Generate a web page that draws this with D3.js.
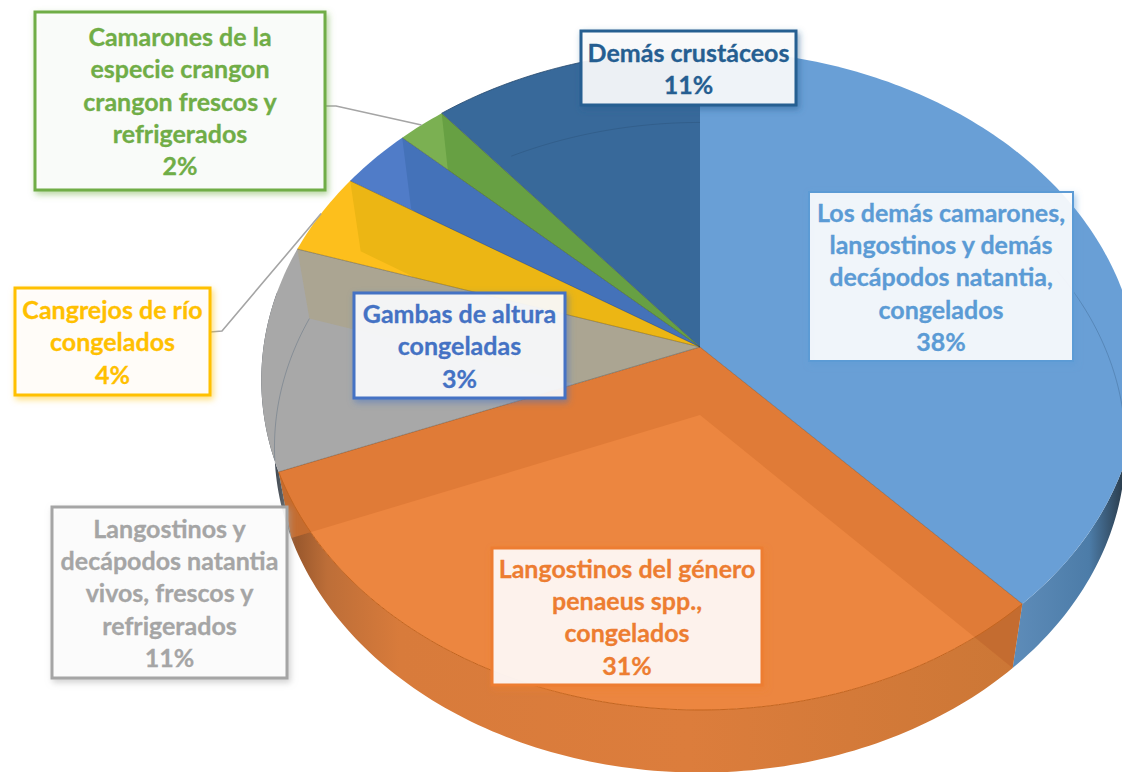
<!DOCTYPE html>
<html><head><meta charset="utf-8">
<script src="https://cdn.jsdelivr.net/npm/d3@7/dist/d3.min.js"></script>
<style>html,body{margin:0;padding:0;background:#fff;overflow:hidden}svg{display:block}text{font-family:Lato,"Open Sans",sans-serif;font-weight:700}</style>
</head><body>
<svg id="c" width="1122" height="772"></svg>
<script>
// ---- data ----
const categories = [
  ["Los demás camarones,","langostinos y demás","decápodos natantia,","congelados"],
  ["Langostinos del género","penaeus spp.,","congelados"],
  ["Langostinos y","decápodos natantia","vivos, frescos y","refrigerados"],
  ["Cangrejos de río","congelados"],
  ["Gambas de altura","congeladas"],
  ["Camarones de la","especie crangon","crangon frescos y","refrigerados"],
  ["Demás crustáceos"]
];
const values = [38,31,11,4,3,2,11];
// ---- styles ----
const topColors  = ["#699fd6","#ec8640","#a8a8a8","#fdbf1c","#507cc8","#7bb052","#38699a"];
const wallColors = ["#699fd6","#e07b37","#aba592","#ecb614","#4472b9","#67a043","#35689a"];
const lineColors = ["#5b9bd5","#ed7d31","#a5a5a5","#ffc000","#4472c4","#70ad47","#255e91"];
const sideStops = [
  [["#5e8cb9",0],["#4c7ca8",.7],["#2c3f50",1]],
  [["#94552b",0],["#bd6e38",.05],["#d87b3b",.15],["#dc7d3c",.55],["#cc7736",1]],
  [["#3d4650",0],["#7c7c7c",1]],
  [["#ecb614",0],["#ecb614",1]],[["#4472b9",0],["#4472b9",1]],[["#67a043",0],["#67a043",1]],[["#35689a",0],["#35689a",1]]
];
const boxes = [ // x0,y0,x1,y1,border
  [809,192,1073,361,2],[492,548,762,685,3],[52,507,287,678,3],[15,288,210,395,3],
  [354,293,565,398,3],[35,12,325,190,3],[581,31,796,105,3]
];
const leaders = {3:[[210,332],[222,331]],5:[[325,106],[336,106]]};
const fontSize = 25, lineStep = 32.3;

// ---- projection of the tilted disc ----
const x0 = 700, yTop = 347, yBot = 415, A = 436.5, B = 326.7, k = 0.1, sx = 0.97, sy = 0.985;
const uScale = d3.scaleLinear().domain([-1,1]).range([-A,A]);
const vScale = d3.scaleLinear().domain([-1,1]).range([-B,B]);
function project(theta, level, r = 1){
  const u = r*Math.sin(theta), v = -r*Math.cos(theta), w = 1 - k*v;
  const px = uScale(u)/w, py = vScale(v)/w;
  return level === 0 ? [x0+px, yTop+py] : [x0+px*sx, yBot+py*sy];
}
const line = d3.line();
const step = Math.PI/180;
function arcPts(a0,a1,level){
  const n = Math.max(2, Math.ceil((a1-a0)/step));
  return d3.range(n+1).map(i => project(a0+(a1-a0)*i/n, level));
}
const pie = d3.pie().sort(null).value(d => d)(values);
const svg = d3.select("#c");
const defs = svg.append("defs");
const FRONT0 = 80*step, FRONT1 = 280*step;

function wedgePath(d){ return line([project(0,0,0), ...arcPts(d.startAngle,d.endAngle,0)])+"Z"; }
function sidePath(d){
  const a0 = Math.max(d.startAngle,FRONT0), a1 = Math.min(d.endAngle,FRONT1);
  if (a1 <= a0) return "";
  return line([...arcPts(a0,a1,0), ...arcPts(a0,a1,1).reverse()])+"Z";
}
function wallPath(a){ return line([project(0,0,0),project(a,0),project(a,1),project(0,1,0)])+"Z"; }

// gradients + clips
pie.forEach((d,i)=>{
  const a0 = Math.max(d.startAngle,FRONT0), a1 = Math.max(Math.min(d.endAngle,FRONT1),a0+.001);
  const ext = d3.extent(arcPts(a0,a1,1).map(p=>p[0]));
  const g = defs.append("linearGradient").attr("id","side"+i).attr("gradientUnits","userSpaceOnUse")
    .attr("x1",ext[0]).attr("x2",i===0?1122:ext[1]).attr("y1",0).attr("y2",0);
  sideStops[i].forEach(s=>g.append("stop").attr("offset",s[1]).attr("stop-color",s[0]));
  const cp = defs.append("clipPath").attr("id","clip"+i);
  cp.append("path").attr("d",wedgePath(d));
  const sp = sidePath(d);
  if (sp){
    cp.append("path").attr("d",sp);
    defs.append("clipPath").attr("id","sideclip"+i).append("path").attr("d",sp);
  }
});
const f = defs.selectAll("filter").data(lineColors).join("filter")
  .attr("id",(d,i)=>"sh"+i).attr("x","-15%").attr("y","-15%").attr("width","130%").attr("height","130%");
f.append("feDropShadow").attr("dx",2).attr("dy",3).attr("stdDeviation",3)
  .attr("flood-color",d=>d).attr("flood-opacity",.55);

// sides
svg.append("g").selectAll("path").data(pie).join("path")
  .attr("d",sidePath).attr("fill",(d,i)=>`url(#side${i})`);
// top faces
svg.append("g").selectAll("path").data(pie).join("path")
  .attr("d",wedgePath).attr("fill",(d,i)=>topColors[i]);
// inner radial walls seen through the translucent slices
const walls = svg.append("g");
pie.forEach((d,i)=>{
  const g = walls.append("g").attr("clip-path",`url(#clip${i})`);
  [d.startAngle,d.endAngle].forEach(a=>{
    g.append("path").attr("d",wallPath(a)).attr("fill",wallColors[i]);
  });
  if (sidePath(d)){
    const s = g.append("g").attr("clip-path",`url(#sideclip${i})`);
    [d.startAngle,d.endAngle].forEach(a=>s.append("path").attr("d",wallPath(a)).attr("fill","#000").attr("opacity",.12));
  }
});
// faint far rim of the base seen through the slices
const rimSpans = [[6,331*step,pie[6].endAngle],[2,262*step,pie[2].endAngle],[0,62*step,90*step]];
svg.append("g").selectAll("path").data(rimSpans).join("path")
  .attr("d",s=>line(arcPts(s[1],s[2],1)))
  .attr("fill","none").attr("stroke","#1f3f5f").attr("stroke-opacity",.25).attr("stroke-width",1);
// front rim of the top face
svg.append("path").attr("d",line(arcPts(pie[1].startAngle,pie[1].endAngle,0)))
  .attr("fill","none").attr("stroke","#c4651f").attr("stroke-width",1);
// radial edges
svg.append("g").selectAll("path").data(pie.slice(1)).join("path")
  .attr("d",d=>line([project(0,0,0),project(d.startAngle,0)]))
  .attr("stroke","#3a3a3a").attr("stroke-opacity",.35).attr("stroke-width",1).attr("fill","none");
// dark blue back rim outline
svg.append("path").attr("d",line(arcPts(pie[6].startAngle,pie[6].endAngle,0)))
  .attr("fill","none").attr("stroke","#24486c").attr("stroke-width",.8);

// leader lines
const mid = d => (d.startAngle+d.endAngle)/2;
svg.append("g").selectAll("path").data(Object.keys(leaders)).join("path")
  .attr("d",i=>line([...leaders[i],project(mid(pie[+i]),0)]))
  .attr("fill","none").attr("stroke","#a5a5a5").attr("stroke-width",1.6);

// labels
const lab = svg.append("g").selectAll("g").data(pie).join("g");
lab.append("rect")
  .attr("x",(d,i)=>boxes[i][0]).attr("y",(d,i)=>boxes[i][1])
  .attr("width",(d,i)=>boxes[i][2]-boxes[i][0]).attr("height",(d,i)=>boxes[i][3]-boxes[i][1])
  .attr("fill","#fff").attr("fill-opacity",.88)
  .attr("stroke",(d,i)=>lineColors[i]).attr("stroke-width",(d,i)=>boxes[i][4])
  .attr("filter",(d,i)=>`url(#sh${i})`);
lab.each(function(d,i){
  const b = boxes[i], lines = [...categories[i], values[i]+"%"];
  const cy = (b[1]+b[3])/2, cx = (b[0]+b[2])/2;
  d3.select(this).selectAll("text").data(lines).join("text")
    .attr("x",cx).attr("y",(t,j)=>cy+(j-(lines.length-1)/2)*lineStep+fontSize*.33+1.5)
    .attr("text-anchor","middle").attr("font-size",fontSize).attr("fill",lineColors[i])
    .attr("stroke",lineColors[i]).attr("stroke-width",.3).text(t=>t);
});
</script>
</body></html>
